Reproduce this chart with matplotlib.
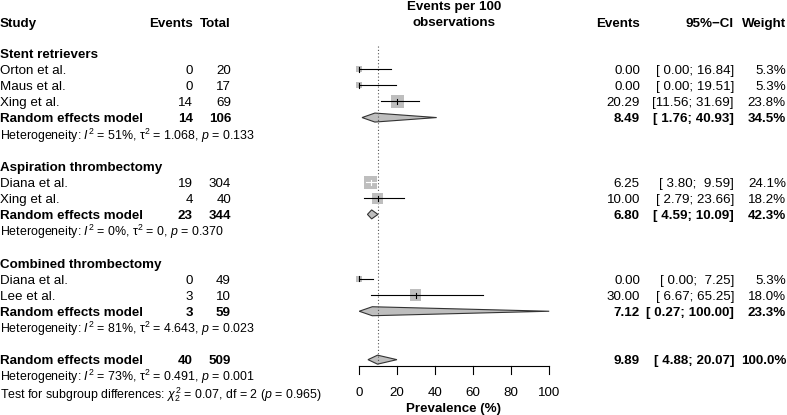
import matplotlib
matplotlib.use("Agg")
import matplotlib.pyplot as plt
from matplotlib.patches import Rectangle, Polygon
import numpy as np

plt.rcParams['font.family'] = ['Liberation Sans', 'DejaVu Sans']
plt.rcParams['mathtext.fontset'] = 'custom'
plt.rcParams['mathtext.rm'] = 'Liberation Sans'
plt.rcParams['mathtext.it'] = 'Liberation Sans:italic'
plt.rcParams['mathtext.bf'] = 'Liberation Sans:bold'

# data
groups = ["Stent retrievers", "Aspiration thrombectomy", "Combined thrombectomy"]
studies = ["Orton et al.", "Maus et al.", "Xing et al.", "Diana et al.", "Xing et al.",
           "Diana et al.", "Lee et al."]
study_group = [0, 0, 0, 1, 1, 2, 2]
events = [0, 0, 14, 19, 4, 0, 3]
totals = [20, 17, 69, 304, 40, 49, 10]
est = [0.00, 0.00, 20.29, 6.25, 10.00, 0.00, 30.00]
lower = [0.00, 0.00, 11.56, 3.80, 2.79, 0.00, 6.67]
upper = [16.84, 19.51, 31.69, 9.59, 23.66, 7.25, 65.25]
weight = [5.3, 5.3, 23.8, 24.1, 18.2, 5.3, 18.0]

sub_events = [14, 23, 3]
sub_totals = [106, 344, 59]
sub_est = [8.49, 6.80, 7.12]
sub_lower = [1.76, 4.59, 0.27]
sub_upper = [40.93, 10.09, 100.00]
sub_weight = [34.5, 42.3, 23.3]
sub_i2 = [51, 0, 81]
sub_tau2 = ["1.068", "0", "4.643"]
sub_p = ["0.133", "0.370", "0.023"]

all_events = 40
all_total = 509
all_est = 9.89
all_lower = 4.88
all_upper = 20.07
all_i2 = 73
all_tau2 = "0.491"
all_p = "0.001"
test_chi2 = "0.07"
test_df = 2
test_p = "0.965"

xticks = [0, 20, 40, 60, 80, 100]

W, H = 787, 415
fig = plt.figure(figsize=(W / 100, H / 100), dpi=100)
ax = fig.add_axes([0, 0, 1, 1])
ax.set_xlim(0, W)
ax.set_ylim(H, 0)
ax.axis('off')

# forest axis: x in prevalence, y in pixels
x0, scale = 358.7, 1.905
axf = fig.add_axes([0, 0, 1, 1])
axf.set_xlim(-x0 / scale, (W - x0) / scale)
axf.set_ylim(H, 0)
axf.axis('off')

fs = 9.6
fs_het = 8.9
y0, dy = 53.0, 16.14
toff = 1.8  # small shift so glyphs sit like the R output


def row_y(i):
    return y0 + dy * i


def txt(x, y, s, ha='left', bold=False, size=fs, a=None):
    (a or ax).text(x, y + toff, s, fontsize=size, fontweight='bold' if bold else 'normal',
                   ha=ha, va='center')


def ci_str(lo, hi):
    return "[%5.2f; %5.2f]" % (lo, hi)


def het_str(i2, tau2, p):
    return ("Heterogeneity: $I^2$ = %d%%, τ$^2$ = %s, $p$ = %s" % (i2, tau2, p))


# headers
txt(0, 22, "Study", bold=True)
txt(193, 22, "Events", ha='right', bold=True)
txt(231, 22, "Total", ha='right', bold=True)
txt(454, 5, "Events per 100", ha='center', bold=True)
txt(454, 21, "observations", ha='center', bold=True)
txt(640, 22, "Events", ha='right', bold=True)
txt(734, 22, "95%\u2212CI", ha='right', bold=True)
txt(786, 22, "Weight", ha='right', bold=True)


def draw_diamond(y, e, lo, hi, half=4.5):
    pts = [(lo, y), (e, y - half), (hi, y), (e, y + half)]
    axf.add_patch(Polygon(pts, closed=True, facecolor='#BEBEBE', edgecolor='#333333', lw=0.8))


def value_cols(y, e, lo, hi, w, bold=False):
    txt(640, y, "%.2f" % e, ha='right', bold=bold)
    txt(734, y, ci_str(lo, hi), ha='right', bold=bold)
    txt(786, y, "%.1f%%" % w, ha='right', bold=bold)


row = 0
for g, gname in enumerate(groups):
    txt(0, row_y(row), gname, bold=True)
    row += 1
    for k in range(len(studies)):
        if study_group[k] != g:
            continue
        y = row_y(row)
        txt(0, y, studies[k])
        txt(193, y, str(events[k]), ha='right')
        txt(231, y, str(totals[k]), ha='right')
        side = 2.65 * np.sqrt(weight[k])
        axf.add_patch(Rectangle((est[k] - side / 2 / scale, y - side / 2), side / scale, side,
                                facecolor='#BEBEBE', edgecolor='none', zorder=2))
        inside = (upper[k] - lower[k]) * scale < side
        lc = 'white' if inside else 'black'
        axf.plot([lower[k], upper[k]], [y, y], color=lc, lw=0.8, zorder=3)
        axf.plot([est[k], est[k]], [y - 2.5, y + 2.5], color=lc, lw=0.8, zorder=3)
        value_cols(y, est[k], lower[k], upper[k], weight[k])
        row += 1
    y = row_y(row)
    txt(0, y, "Random effects model", bold=True)
    txt(193, y, str(sub_events[g]), ha='right', bold=True)
    txt(231, y, str(sub_totals[g]), ha='right', bold=True)
    draw_diamond(y, sub_est[g], sub_lower[g], sub_upper[g])
    value_cols(y, sub_est[g], sub_lower[g], sub_upper[g], sub_weight[g], bold=True)
    row += 1
    txt(0, row_y(row), het_str(sub_i2[g], sub_tau2[g], sub_p[g]), size=fs_het)
    row += 2

y = row_y(row)
txt(0, y, "Random effects model", bold=True)
txt(193, y, str(all_events), ha='right', bold=True)
txt(231, y, str(all_total), ha='right', bold=True)
draw_diamond(y, all_est, all_lower, all_upper)
value_cols(y, all_est, all_lower, all_upper, 100.0, bold=True)
txt(0, row_y(row + 1) - 1.2, het_str(all_i2, all_tau2, all_p), size=fs_het)
txt(0, row_y(row + 2) + 1.2,
    "Test for subgroup differences: $\\chi^2_%d$ = %s, df = %d ($p$ = %s)"
    % (test_df, test_chi2, test_df, test_p), size=fs_het)

# reference line
axf.plot([all_est, all_est], [46, 364], color='#555555', lw=0.8, ls=(0, (1, 2)), zorder=1)

# x axis
ya = 366
axf.plot([xticks[0], xticks[-1]], [ya, ya], color='black', lw=0.8)
for t in xticks:
    axf.plot([t, t], [ya, ya + 8], color='black', lw=0.8)
    txt(t, 391, str(t), ha='center', a=axf)
txt(50, 407, "Prevalence (%)", ha='center', bold=True, a=axf)

fig.savefig("out.png", dpi=100)
